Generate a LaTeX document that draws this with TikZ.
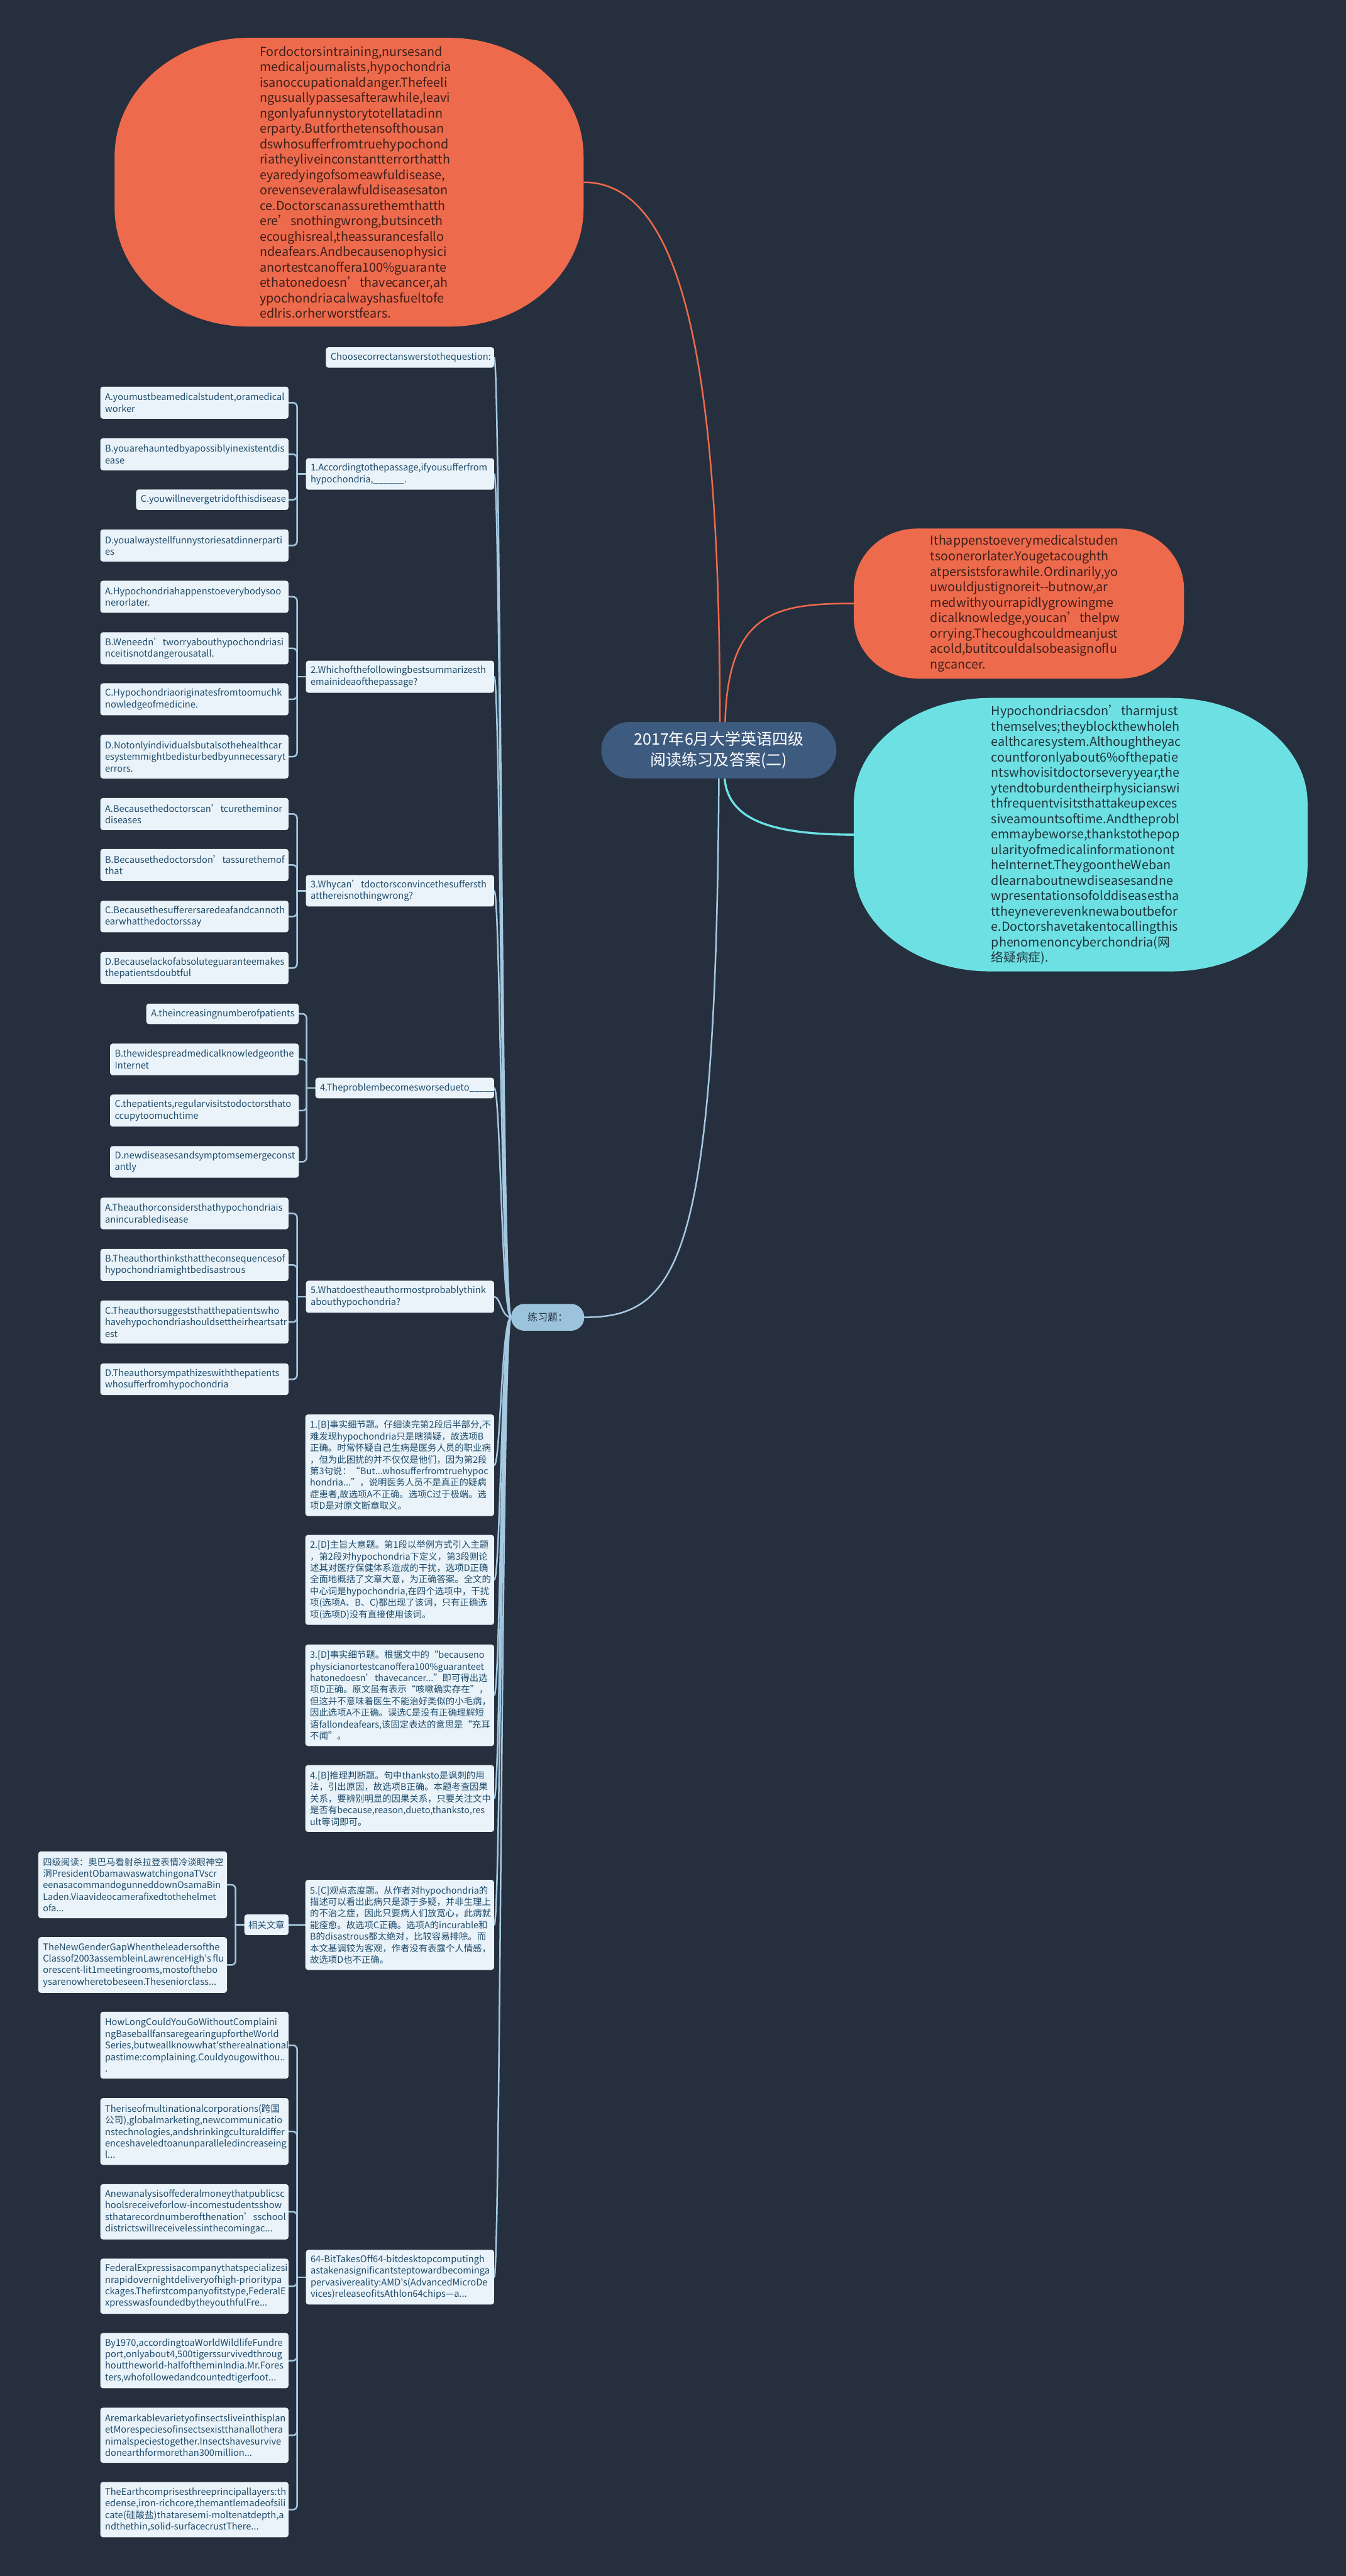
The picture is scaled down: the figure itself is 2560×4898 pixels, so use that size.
\documentclass[tikz,border=0pt]{standalone}
\usepackage{fontspec}
\newfontfamily\nf{Noto Sans CJK SC}
\usetikzlibrary{calc}
\definecolor{bgc}{RGB}{38,47,61}
\definecolor{orc}{RGB}{238,106,76}
\definecolor{cyc}{RGB}{109,224,227}
\definecolor{rootc}{RGB}{61,90,127}
\definecolor{lxc}{RGB}{155,195,220}
\definecolor{boxc}{RGB}{233,243,249}
\definecolor{linkc}{RGB}{163,200,224}
\definecolor{txtc}{RGB}{33,76,108}
\definecolor{ortxt}{RGB}{62,32,26}
\definecolor{cytxt}{RGB}{30,52,60}
\definecolor{lxtxt}{RGB}{40,50,64}
\pgfdeclarelayer{back}\pgfdeclarelayer{lines}
\pgfsetlayers{back,lines,main}
\exhyphenpenalty=10000 \hyphenpenalty=10000
\newcommand\blob[7]{%
\fill[#7] ({#1-#3/2+#5},{#2-#4/2}) -- ({#1+#3/2-#5},{#2-#4/2})
 .. controls ({#1+#3/2-#5+0.5523*#5},{#2-#4/2}) and ({#1+#3/2},{#2-#4/2+#6-0.5523*#6}) .. ({#1+#3/2},{#2-#4/2+#6})
 -- ({#1+#3/2},{#2+#4/2-#6})
 .. controls ({#1+#3/2},{#2+#4/2-#6+0.5523*#6}) and ({#1+#3/2-#5+0.5523*#5},{#2+#4/2}) .. ({#1+#3/2-#5},{#2+#4/2})
 -- ({#1-#3/2+#5},{#2+#4/2})
 .. controls ({#1-#3/2+#5-0.5523*#5},{#2+#4/2}) and ({#1-#3/2},{#2+#4/2-#6+0.5523*#6}) .. ({#1-#3/2},{#2+#4/2-#6})
 -- ({#1-#3/2},{#2-#4/2+#6})
 .. controls ({#1-#3/2},{#2-#4/2+#6-0.5523*#6}) and ({#1-#3/2+#5-0.5523*#5},{#2-#4/2}) .. ({#1-#3/2+#5},{#2-#4/2})
 -- cycle;}
\tikzset{
 qb/.style={rectangle, rounded corners=5pt, fill=boxc, text=txtc, font=\nf\fontsize{17.5}{22}\selectfont, align=left, inner xsep=9pt, inner ysep=0pt, anchor=north east},
 cb/.style={qb, font=\nf\fontsize{17.2}{22}\selectfont},
 link/.style={draw=linkc, line width=3pt, line cap=round},
 orline/.style={draw=orc, line width=3pt},
 cyline/.style={draw=cyc, line width=4pt},
 bigtxt/.style={inner sep=0pt, align=left, font=\nf\fontsize{23.6}{29.3}\selectfont},
}
\newcommand\brk[2]{%
 \draw[link, rounded corners=8pt] (#1.east) -| ($(#2.west)+(-16.5,0)$);
 \draw[link] ($(#2.west)+(-16.5,0)$) -- (#2.west);}
\newcommand\trk[1]{\draw[link] (#1.east) .. controls +(12,0) and +(-18,0) .. (lxt.west);}
\begin{document}
\begin{tikzpicture}[x=1pt,y=-1pt]
\begin{pgfonlayer}{back}
\fill[bgc] (0,0) rectangle (2560,4898);
\end{pgfonlayer}
\useasboundingbox (0,0) rectangle (2560,4898);

% ---- big shapes
\blob{664}{346.5}{892}{549}{255}{225}{orc}
\blob{1938}{1147.5}{628}{285}{120}{115}{orc}
\blob{2055.5}{1587}{863}{520}{260}{200}{cyc}

\node[bigtxt, text=ortxt, text width=340pt, minimum width=892pt, minimum height=549pt] (topE) at (664,346.5) {Fordoctorsintraining,nursesand\\medicaljournalists,hypochondria\\isanoccupationaldanger.Thefeeli\\ngusuallypassesafterawhile,leavi\\ngonlyafunnystorytotellatadinn\\erparty.Butforthetensofthousan\\dswhosufferfromtruehypochond\\riatheyliveinconstantterrorthatth\\eyaredyingofsomeawfuldisease,\\orevenseveralawfuldiseasesaton\\ce.Doctorscanassurethemthatth\\ere’snothingwrong,butsinceth\\ecoughisreal,theassurancesfallo\\ndeafears.Andbecausenophysici\\anortestcanoffera100\%guarante\\ethatonedoesn’thavecancer,ah\\ypochondriacalwayshasfueltofe\\edlris.orherworstfears.};

\node[bigtxt, text=ortxt, text width=337pt, minimum width=628pt, minimum height=285pt] (ro) at (1938,1147.5) {Ithappenstoeverymedicalstuden\\tsoonerorlater.Yougetacoughth\\atpersistsforawhile.Ordinarily,yo\\uwouldjustignoreit-{}-butnow,ar\\medwithyourrapidlygrowingme\\dicalknowledge,youcan’thelpw\\orrying.Thecoughcouldmeanjust\\acold,butitcouldalsobeasignoflu\\ngcancer.};

\node[bigtxt, text=cytxt, text width=340pt, minimum width=863pt, minimum height=520pt] (cy) at (2055.5,1587) {Hypochondriacsdon’tharmjust\\themselves;theyblockthewholeh\\ealthcaresystem.Althoughtheyac\\countforonlyabout6\%ofthepatie\\ntswhovisitdoctorseveryyear,the\\ytendtoburdentheirphysicianswi\\thfrequentvisitsthattakeupexces\\siveamountsoftime.Andtheprobl\\emmaybeworse,thankstothepop\\ularityofmedicalinformationont\\heInternet.TheygoontheWeban\\dlearnaboutnewdiseasesandne\\wpresentationsofolddiseasestha\\ttheyneverevenknewaboutbefor\\e.Doctorshavetakentocallingthis\\phenomenoncyberchondria(网\\络疑病症).};

\node[fill=rootc, rounded corners=53pt, minimum width=447pt, minimum height=107pt, text=white, align=center, font=\nf\fontsize{30}{39}\selectfont, inner sep=0pt] (root) at (1367.3,1426.3) {2017年6月大学英语四级\\阅读练习及答案(二)};

\node[fill=lxc, rounded corners=25pt, minimum width=139pt, minimum height=51pt, text=lxtxt, font=\nf\fontsize{19}{22}\selectfont, inner sep=0pt] (lxt) at (1041.7,2504.7) {练习题：};

% ---- questions
\node[qb,text width=302pt,minimum height=39pt] (choose) at (940,660) {Choosecorrectanswerstothequestion:};

\node[qb,text width=340pt,minimum height=60pt] (q1) at (940,871) {1.Accordingtothepassage,ifyousufferfrom\\hypochondria,\_\_\_\_\_\_.};
\node[qb,text width=340pt,minimum height=61pt] (q1a) at (549,735) {A.youmustbeamedicalstudent,oramedical\\worker};
\node[qb,text width=340pt,minimum height=61pt] (q1b) at (549,833) {B.youarehauntedbyapossiblyinexistentdis\\ease};
\node[qb,text width=272pt,minimum height=39pt] (q1c) at (549,930.5) {C.youwillnevergetridofthisdisease};
\node[qb,text width=340pt,minimum height=61pt] (q1d) at (549,1006.5) {D.youalwaystellfunnystoriesatdinnerparti\\es};

\node[qb,text width=340pt,minimum height=61pt] (q2) at (940,1256) {2.Whichofthefollowingbestsummarizesth\\emainideaofthepassage?};
\node[qb,text width=340pt,minimum height=61pt] (q2a) at (549,1104) {A.Hypochondriahappenstoeverybodysoo\\nerorlater.};
\node[qb,text width=340pt,minimum height=61pt] (q2b) at (549,1202) {B.Weneedn’tworryabouthypochondriasi\\nceitisnotdangerousatall.};
\node[qb,text width=340pt,minimum height=61pt] (q2c) at (549,1299) {C.Hypochondriaoriginatesfromtoomuchk\\nowledgeofmedicine.};
\node[qb,text width=340pt,minimum height=83pt] (q2d) at (549,1397) {D.Notonlyindividualsbutalsothehealthcar\\esystemmightbedisturbedbyunnecessaryt\\errors.};

\node[qb,text width=340pt,minimum height=60pt] (q3) at (940,1663.5) {3.Whycan’tdoctorsconvincethesuffersth\\atthereisnothingwrong?};
\node[qb,text width=340pt,minimum height=61pt] (q3a) at (549,1517) {A.Becausethedoctorscan’tcuretheminor\\diseases};
\node[qb,text width=340pt,minimum height=61pt] (q3b) at (549,1614) {B.Becausethedoctorsdon’tassurethemof\\that};
\node[qb,text width=340pt,minimum height=60pt] (q3c) at (549,1712.5) {C.Becausethesufferersaredeafandcannoth\\earwhatthedoctorssay};
\node[qb,text width=340pt,minimum height=61pt] (q3d) at (549,1810) {D.Becauselackofabsoluteguaranteemakes\\thepatientsdoubtful};

\node[qb,text width=322pt,minimum height=39pt] (q4) at (940,2049) {4.Theproblembecomesworsedueto\_\_\_\_\_};
\node[qb,text width=272pt,minimum height=39pt] (q4a) at (568.5,1908) {A.theincreasingnumberofpatients};
\node[qb,text width=341pt,minimum height=60pt] (q4b) at (568.5,1984) {B.thewidespreadmedicalknowledgeonthe\\Internet};
\node[qb,text width=341pt,minimum height=61pt] (q4c) at (568.5,2081) {C.thepatients,regularvisitstodoctorsthato\\ccupytoomuchtime};
\node[qb,text width=341pt,minimum height=60pt] (q4d) at (568.5,2179) {D.newdiseasesandsymptomsemergeconst\\antly};

\node[qb,text width=340pt,minimum height=61pt] (q5) at (940,2435) {5.Whatdoestheauthormostprobablythink\\abouthypochondria?};
\node[qb,text width=340pt,minimum height=60pt] (q5a) at (549,2277) {A.Theauthorconsidersthathypochondriais\\anincurabledisease};
\node[qb,text width=340pt,minimum height=61pt] (q5b) at (549,2374.5) {B.Theauthorthinksthattheconsequencesof\\hypochondriamightbedisastrous};
\node[qb,text width=340pt,minimum height=82pt] (q5c) at (549,2472.4) {C.Theauthorsuggeststhatthepatientswho\\havehypochondriashouldsettheirheartsatr\\est};
\node[qb,text width=340pt,minimum height=60pt] (q5d) at (549,2592.3) {D.Theauthorsympathizeswiththepatients\\whosufferfromhypochondria};

% ---- answers
\node[cb,text width=341pt,minimum height=193pt] (a1) at (940,2689.3) {1.[B]事实细节题。仔细读完第2段后半部分,不\\难发现hypochondria只是瞎猜疑，故选项B\\正确。时常怀疑自己生病是医务人员的职业病\\，但为此困扰的并不仅仅是他们，因为第2段\\第3句说：“But...whosufferfromtruehypoc\\hondria...”，说明医务人员不是真正的疑病\\症患者,故选项A不正确。选项C过于极端。选\\项D是对原文断章取义。};
\node[cb,text width=341pt,minimum height=171pt] (a2) at (940,2918.3) {2.[D]主旨大意题。第1段以举例方式引入主题\\，第2段对hypochondria下定义，第3段则论\\述其对医疗保健体系造成的干扰，选项D正确\\全面地概括了文章大意，为正确答案。全文的\\中心词是hypochondria,在四个选项中，干扰\\项(选项A、B、C)都出现了该词，只有正确选\\项(选项D)没有直接使用该词。};
\node[cb,text width=341pt,minimum height=193pt] (a3) at (940,3126.7) {3.[D]事实细节题。根据文中的“becauseno\\physicianortestcanoffera100\%guaranteet\\hatonedoesn’thavecancer...”即可得出选\\项D正确。原文虽有表示“咳嗽确实存在”，\\但这并不意味着医生不能治好类似的小毛病，\\因此选项A不正确。误选C是没有正确理解短\\语fallondeafears,该固定表达的意思是“充耳\\不闻”。};
\node[cb,text width=341pt,minimum height=127pt] (a4) at (940,3356) {4.[B]推理判断题。句中thanksto是讽刺的用\\法，引出原因，故选项B正确。本题考查因果\\关系，要辨别明显的因果关系，只要关注文中\\是否有because,reason,dueto,thanksto,res\\ult等词即可。};
\node[cb,text width=341pt,minimum height=171pt] (a5) at (940,3574.3) {5.[C]观点态度题。从作者对hypochondria的\\描述可以看出此病只是源于多疑，并非生理上\\的不治之症，因此只要病人们放宽心，此病就\\能痊愈。故选项C正确。选项A的incurable和\\B的disastrous都太绝对，比较容易排除。而\\本文基调较为客观，作者没有表露个人情感，\\故选项D也不正确。};

\node[cb,align=center,inner xsep=0pt,minimum width=84pt,minimum height=39pt] (xg) at (549,3640) {相关文章};
\node[cb,text width=341pt,minimum height=127pt] (s1) at (432,3520) {四级阅读：奥巴马看射杀拉登表情冷淡眼神空\\洞PresidentObamawaswatchingonaTVscr\\eenasacommandogunneddownOsamaBin\\Laden.Viaavideocamerafixedtothehelmet\\ofa...};
\node[qb,text width=341pt,minimum height=106pt] (s2) at (432,3683) {TheNewGenderGapWhentheleadersofthe\\Classof2003assembleinLawrenceHigh's\,flu\\orescent-lit1meetingrooms,mostofthebo\\ysarenowheretobeseen.Theseniorclass...};

% ---- related
\node[qb,text width=340pt,minimum height=104pt] (b64) at (940,4277.6) {64-BitTakesOff64-bitdesktopcomputingh\\astakenasignificantsteptowardbecominga\\pervasivereality:AMD's(AdvancedMicroDe\\vices)releaseofitsAthlon64chips—a...};
\node[qb,text width=340pt,minimum height=127pt] (r1) at (549,3825) {HowLongCouldYouGoWithoutComplaini\\ngBaseballfansaregearingupfortheWorld\\Series,butweallknowwhat'stherealnational\\pastime:complaining.Couldyougowithou..\\.};
\node[qb,text width=340pt,minimum height=127pt] (r2) at (549,3989) {Theriseofmultinationalcorporations(跨国\\公司),globalmarketing,newcommunicatio\\nstechnologies,andshrinkingculturaldiffer\\enceshaveledtoanunparalleledincreaseing\\l...};
\node[qb,text width=340pt,minimum height=105pt] (r3) at (549,4152.7) {Anewanalysisoffederalmoneythatpublicsc\\hoolsreceiveforlow-incomestudentsshow\\sthatarecordnumberofthenation’sschool\\districtswillreceivelessinthecomingac...};
\node[qb,text width=340pt,minimum height=105pt] (r4) at (549,4294.3) {FederalExpressisacompanythatspecializesi\\nrapidovernightdeliveryofhigh-prioritypa\\ckages.Thefirstcompanyofitstype,FederalE\\xpresswasfoundedbytheyouthfulFre...};
\node[qb,text width=340pt,minimum height=105pt] (r5) at (549,4435.7) {By1970,accordingtoaWorldWildlifeFundre\\port,onlyabout4,500tigerssurvivedthroug\\houttheworld-halfoftheminIndia.Mr.Fores\\ters,whofollowedandcountedtigerfoot...};
\node[qb,text width=340pt,minimum height=105pt] (r6) at (549,4577.7) {Aremarkablevarietyofinsectsliveinthisplan\\etMorespeciesofinsectsexistthanallothera\\nimalspeciestogether.Insectshavesurvive\\donearthformorethan300million...};
\node[qb,text width=340pt,minimum height=105pt] (r7) at (549,4719) {TheEarthcomprisesthreeprincipallayers:th\\edense,iron-richcore,themantlemadeofsili\\cate(硅酸盐)thataresemi-moltenatdepth,a\\ndthethin,solid-surfacecrustThere...};

% ---- connectors
\begin{pgfonlayer}{lines}
\draw[orline] ($(root.north)+(2,0)$) .. controls (1369,700) and (1300,346.5) .. (topE.east);
\draw[orline] ($(root.north)+(12,0)$) .. controls (1385,1160) and (1480,1147.5) .. (ro.west);
\draw[cyline] ($(root.south)+(11,0)$) .. controls (1385,1560) and (1470,1587) .. (cy.west);
\draw[link] (root.south) .. controls (1362,2400) and (1290,2504.7) .. (lxt.east);
\foreach \n in {choose,q1,q2,q3,q4,q5,a1,a2,a3,a4,a5,b64} {\trk{\n}}
\foreach \o in {q1a,q1b,q1c,q1d} {\brk{\o}{q1}}
\foreach \o in {q2a,q2b,q2c,q2d} {\brk{\o}{q2}}
\foreach \o in {q3a,q3b,q3c,q3d} {\brk{\o}{q3}}
\foreach \o in {q4a,q4b,q4c,q4d} {\brk{\o}{q4}}
\foreach \o in {q5a,q5b,q5c,q5d} {\brk{\o}{q5}}
\foreach \o in {s1,s2} {\brk{\o}{xg}}
\foreach \o in {r1,r2,r3,r4,r5,r6,r7} {\brk{\o}{b64}}
\draw[link] (xg.east) -- (a5.west);
\end{pgfonlayer}
\end{tikzpicture}
\end{document}
